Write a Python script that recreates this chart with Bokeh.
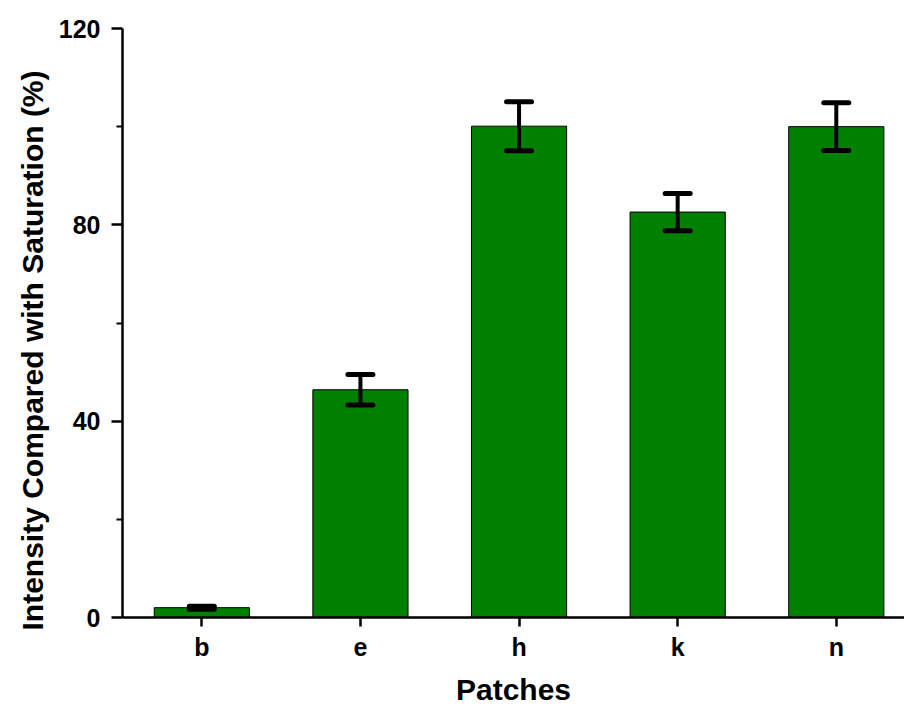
from bokeh.plotting import figure
from bokeh.models import ColumnDataSource, Range1d, FixedTicker, Whisker, TeeHead, Title
from bokeh.embed import file_html
from bokeh.resources import INLINE

categories = ["b", "e", "h", "k", "n"]
values = [2.0, 46.4, 100.1, 82.6, 100.0]
errors = [0.3, 3.1, 5.0, 3.8, 4.85]
y_ticks = [0, 40, 80, 120]
y_minor = [20, 60, 100]
x_title = "Patches"
y_title = "Intensity Compared  with Saturation (%)"

xs = [i + 1 for i in range(len(categories))]
src = ColumnDataSource(dict(
    x=xs, top=values,
    upper=[v + e for v, e in zip(values, errors)],
    lower=[v - e for v, e in zip(values, errors)],
))

FONT = "Liberation Sans"

p = figure(width=904, height=708, output_backend="svg", toolbar_location=None,
           x_range=Range1d(0.5, 5.43), y_range=Range1d(0, 120),
           min_border_left=122, min_border_right=0, min_border_top=28, min_border_bottom=90)
p.outline_line_color = None
p.xgrid.grid_line_color = None
p.ygrid.grid_line_color = None

p.vbar(x="x", top="top", width=0.6, source=src, fill_color="#008000",
       line_color="#000000", line_width=1)

w = Whisker(base="x", upper="upper", lower="lower", source=src, level="overlay",
            line_color="black", line_width=4,
            upper_head=TeeHead(size=25, line_width=5, line_color="black", line_cap="round"),
            lower_head=TeeHead(size=25, line_width=5, line_color="black", line_cap="round"))
p.add_layout(w)

xa = p.xaxis[0]
xa.ticker = FixedTicker(ticks=xs, minor_ticks=[])
xa.major_label_overrides = {x: c for x, c in zip(xs, categories)}
xa.axis_label = x_title
ya = p.yaxis[0]
ya.ticker = FixedTicker(ticks=y_ticks, minor_ticks=y_minor)

for ax in (xa, ya):
    ax.axis_line_width = 2.5
    ax.axis_line_color = "black"
    ax.major_tick_line_width = 2.5
    ax.minor_tick_line_width = 2
    ax.major_tick_in = 0
    ax.minor_tick_in = 0
    ax.major_label_text_font = FONT
    ax.major_label_text_font_style = "bold"
    ax.major_label_text_font_size = "25px"
    ax.major_label_text_color = "black"
    ax.axis_label_text_font = FONT
    ax.axis_label_text_font_style = "bold"
    ax.axis_label_text_font_size = "30px"
    ax.axis_label_text_color = "black"

xa.major_tick_out = 9
xa.major_label_standoff = 6
xa.axis_label_standoff = 9
ya.major_tick_out = 11
ya.minor_tick_out = 6
ya.major_label_standoff = 11

ytitle = Title(text=y_title, align="left", vertical_align="top", offset=-13, standoff=10,
               text_font=FONT, text_font_style="bold", text_font_size="30px",
               text_color="black")
p.add_layout(ytitle, "left")

open("out.html", "w").write(file_html(p, INLINE))
